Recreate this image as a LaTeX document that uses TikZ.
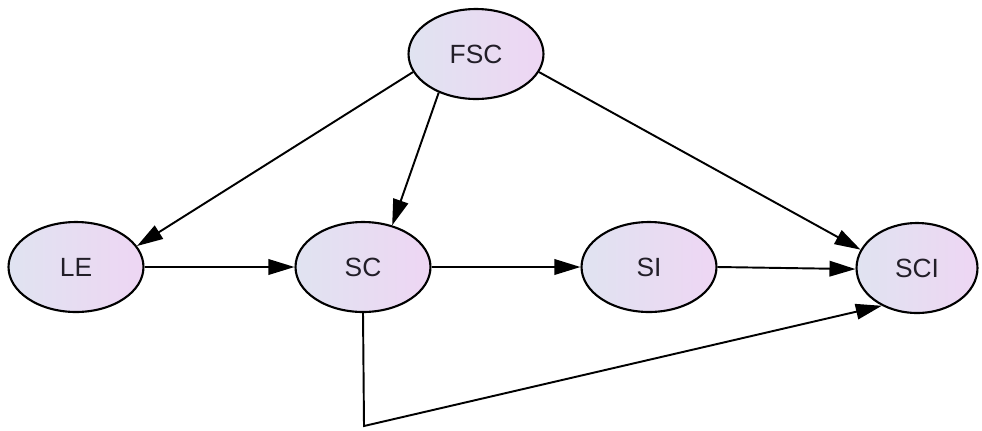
\documentclass[tikz,border=0pt]{standalone}
\usepackage{fontspec}
\setmainfont{Liberation Sans}
\usetikzlibrary{shapes.geometric,arrows.meta}
\definecolor{varleft}{RGB}{224,227,241}
\definecolor{varright}{RGB}{238,214,243}
\definecolor{vartext}{RGB}{34,30,40}
\tikzset{var/.style={ellipse,draw,line width=1.2pt,left color=varleft,right color=varright,
    minimum width=2.7cm,minimum height=1.8cm,inner sep=0pt,text=vartext,font=\fontsize{15}{18}\selectfont},
  link/.style={-{Triangle[length=0.52cm,width=0.31cm]},line width=1.1pt}}
\begin{document}
\begin{tikzpicture}[x=0.02cm,y=-0.02cm]
  \useasboundingbox (0,0) rectangle (982,430);
  \node[var] (fsc) at (476,54) {FSC};
  \node[var] (le) at (76,267) {LE};
  \node[var] (sc) at (363,267) {SC};
  \node[var] (si) at (649,267) {SI};
  \node[var,minimum width=2.42cm] (sci) at (917,268) {SCI};
  \coordinate (bend) at (364,426);
  \draw[link] (fsc.196) -- (le.19);
  \draw[link] (fsc.226) -- (sc.55);
  \draw[link] (fsc.344) -- (sci.162);
  \draw[link] (le) -- (sc);
  \draw[link] (sc) -- (si);
  \draw[link] (si.east) -- (sci.181);
  \draw[link] (sc.south) -- (bend) -- (sci.227);
\end{tikzpicture}
\end{document}
